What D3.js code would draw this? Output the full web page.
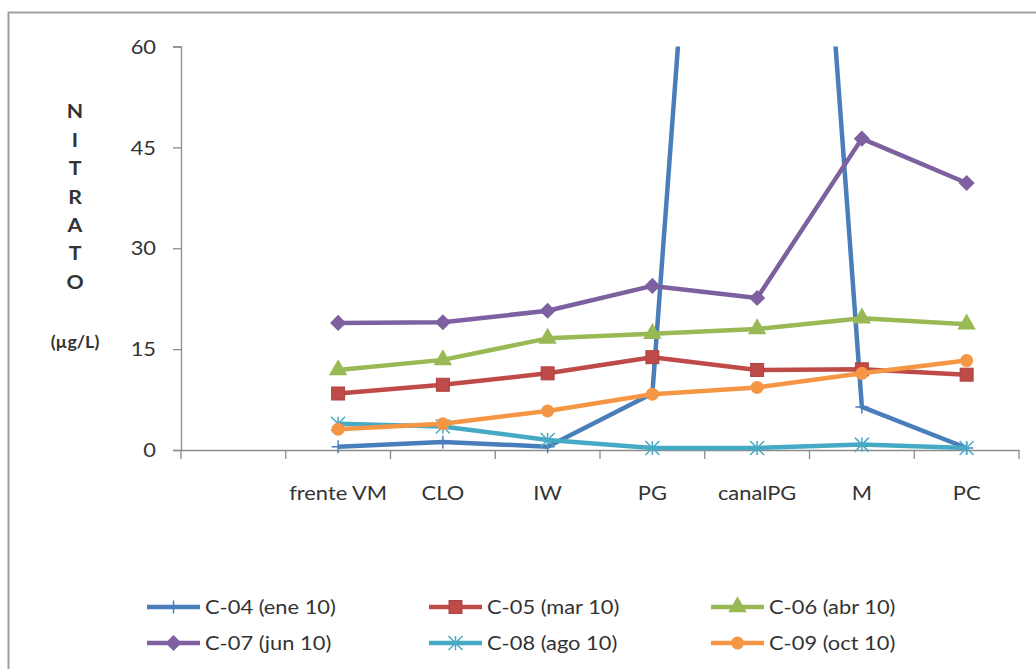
<!DOCTYPE html>
<html>
<head>
<meta charset="utf-8">
<script src="https://cdn.jsdelivr.net/npm/d3@7/dist/d3.min.js"></script>
<style>
  html, body { margin: 0; padding: 0; background: #fff; }
  svg { display: block; }
  text { font-family: Lato, "Open Sans", sans-serif; fill: #333; }
</style>
</head>
<body>
<svg id="chart" width="1036" height="669"></svg>
<script>
// Sampling stations (the first slot is left empty, as in the original sheet)
const stations = ["", "frente VM", "CLO", "IW", "PG", "canalPG", "M", "PC"];

// Nitrate (µg/L) per campaign, one value per station (null = no sample)
const c04 = [null, 0.5, 1.2, 0.5, 8.4, 220, 6.4, 0.3];
const c05 = [null, 8.4, 9.7, 11.4, 13.8, 11.9, 12.0, 11.2];
const c06 = [null, 11.9, 13.4, 16.6, 17.3, 18.0, 19.6, 18.7];
const c07 = [null, 18.9, 19.0, 20.7, 24.4, 22.6, 46.3, 39.7];
const c08 = [null, 3.9, 3.5, 1.5, 0.3, 0.3, 0.8, 0.3];
const c09 = [null, 3.1, 3.9, 5.8, 8.3, 9.3, 11.4, 13.3];

const seriesNames = ["C-04 (ene 10)", "C-05 (mar 10)", "C-06 (abr 10)",
                     "C-07 (jun 10)", "C-08 (ago 10)", "C-09 (oct 10)"];
const seriesColors = ["#4A7EBB", "#BE4B48", "#98B954", "#7D60A0", "#46AAC5", "#F59645"];
const seriesMarkers = ["plus", "square", "triangle", "diamond", "star", "circle"];
const seriesValues = [c04, c05, c06, c07, c08, c09];

const yTicks = [0, 15, 30, 45, 60];
const yTitleLetters = ["N", "I", "T", "R", "A", "T", "O"];
const yUnit = "(µg/L)";

const svg = d3.select("#chart");
const TX = 1.15; // horizontal stretch applied to all text

// outer frame
svg.append("rect")
  .attr("x", 8.5).attr("y", 12.5)
  .attr("width", 1040).attr("height", 700)
  .attr("fill", "none").attr("stroke", "#a0a0a0").attr("stroke-width", 2);

const plot = { left: 181, right: 1019, top: 46.5, bottom: 450 };

const x = d3.scaleBand().domain(stations).range([plot.left, plot.right]);
const y = d3.scaleLinear().domain([0, 60]).range([plot.bottom, plot.top]);
const cx = s => x(s) + x.bandwidth() / 2;

// clip path for the plot area
svg.append("defs").append("clipPath").attr("id", "plotClip")
  .append("rect")
  .attr("x", plot.left - 20).attr("y", plot.top)
  .attr("width", plot.right - plot.left + 40).attr("height", plot.bottom - plot.top + 20);

// Y axis
const yAxis = svg.append("g").attr("transform", `translate(${plot.left},0)`)
  .call(d3.axisLeft(y).tickValues(yTicks).tickSize(8).tickPadding(0).tickFormat(d3.format("d")));
yAxis.select(".domain").attr("stroke", "#8c8c8c").attr("stroke-width", 1.3);
yAxis.selectAll(".tick line").attr("stroke", "#8c8c8c").attr("stroke-width", 1.3);
yAxis.selectAll(".tick text")
  .attr("x", 0).attr("dy", "0.35em")
  .attr("font-size", 19).attr("fill", "#333")
  .attr("text-anchor", "end")
  .attr("transform", `translate(-25,0) scale(${TX},1)`);

// X axis: labels at category centres, tick marks at category boundaries
const xAxis = svg.append("g").attr("transform", `translate(0,${plot.bottom})`)
  .call(d3.axisBottom(x).tickSize(0).tickPadding(0));
xAxis.select(".domain").attr("stroke", "#8c8c8c").attr("stroke-width", 1.3);
xAxis.selectAll(".tick text")
  .attr("x", 0).attr("y", 0).attr("dy", "0.35em")
  .attr("font-size", 19).attr("fill", "#333")
  .attr("transform", `translate(0,43) scale(${TX},1)`);
const bounds = stations.map(s => x(s)).concat([plot.right]);
xAxis.selectAll(".bound").data(bounds).enter().append("line")
  .attr("class", "bound")
  .attr("x1", d => d).attr("x2", d => d)
  .attr("y1", 0).attr("y2", 9)
  .attr("stroke", "#8c8c8c").attr("stroke-width", 1.3);

// Y axis title, letters stacked vertically
const titleG = svg.append("g");
titleG.selectAll("text.letter").data(yTitleLetters).enter().append("text")
  .attr("class", "letter")
  .attr("text-anchor", "middle").attr("dy", "0.35em")
  .attr("font-size", 18.5).attr("font-weight", "bold").attr("fill", "#222")
  .attr("transform", (d, i) => `translate(75,${112 + i * 28.4}) scale(${TX},1)`)
  .text(d => d);
titleG.append("text")
  .attr("text-anchor", "middle").attr("dy", "0.35em")
  .attr("font-size", 17).attr("font-weight", "bold").attr("fill", "#222")
  .attr("transform", `translate(75,342) scale(1.05,1)`)
  .text(yUnit);

// marker drawing
function drawMarker(g, type, color, size) {
  const s = size;
  switch (type) {
    case "square":
      g.append("rect").attr("x", -s / 2).attr("y", -s / 2).attr("width", s).attr("height", s)
        .attr("fill", color).attr("stroke", d3.color(color).darker(0.3)).attr("stroke-width", 1);
      break;
    case "triangle":
      g.append("path").attr("d", d3.symbol(d3.symbolTriangle, s * s * 0.75)())
        .attr("fill", color);
      break;
    case "diamond":
      g.append("path").attr("d", `M0,${-s * 0.62}L${s * 0.62},0L0,${s * 0.62}L${-s * 0.62},0Z`)
        .attr("fill", color);
      break;
    case "circle":
      g.append("circle").attr("r", s / 2).attr("fill", color);
      break;
    case "plus":
      g.append("path").attr("d", `M0,${-s / 2}V${s / 2}M${-s / 2},0H${s / 2}`)
        .attr("stroke", color).attr("stroke-width", 1.5).attr("fill", "none");
      break;
    case "star": {
      const h = s / 2;
      g.append("path")
        .attr("d", `M0,${-h}V${h}M${-h},${-h}L${h},${h}M${-h},${h}L${h},${-h}`)
        .attr("stroke", color).attr("stroke-width", 1.5).attr("fill", "none");
      break;
    }
  }
}
const markerSize = { plus: 13, square: 13, triangle: 14, diamond: 13, circle: 13, star: 14 };

// series lines and markers
const plotG = svg.append("g").attr("clip-path", "url(#plotClip)");
const line = d3.line()
  .defined(d => d.v !== null)
  .x(d => cx(d.s))
  .y(d => y(d.v));

seriesValues.forEach((vals, k) => {
  const pts = stations.map((s, i) => ({ s, v: vals[i] }));
  const g = plotG.append("g");
  g.append("path").datum(pts)
    .attr("d", line)
    .attr("fill", "none")
    .attr("stroke", seriesColors[k])
    .attr("stroke-width", 4.5)
    .attr("stroke-linejoin", "round");
  pts.filter(d => d.v !== null && d.v <= 60).forEach(d => {
    const mg = g.append("g").attr("transform", `translate(${cx(d.s)},${y(d.v)})`);
    drawMarker(mg, seriesMarkers[k], seriesColors[k], markerSize[seriesMarkers[k]]);
  });
});

// legend: 3 columns x 2 rows
const legCols = [147, 429, 711];
const legRows = [607, 643];
seriesNames.forEach((name, k) => {
  const gx = legCols[k % 3], gy = legRows[Math.floor(k / 3)];
  const g = svg.append("g").attr("transform", `translate(${gx},${gy})`);
  g.append("line").attr("x1", 0).attr("x2", 53).attr("y1", 0).attr("y2", 0)
    .attr("stroke", seriesColors[k]).attr("stroke-width", 4.5);
  const mg = g.append("g").attr("transform", "translate(26.5,0)");
  drawMarker(mg, seriesMarkers[k], seriesColors[k], markerSize[seriesMarkers[k]]);
  g.append("text")
    .attr("dy", "0.35em").attr("font-size", 19).attr("fill", "#333")
    .attr("transform", `translate(58,0) scale(${TX},1)`)
    .text(name);
});
</script>
</body>
</html>
